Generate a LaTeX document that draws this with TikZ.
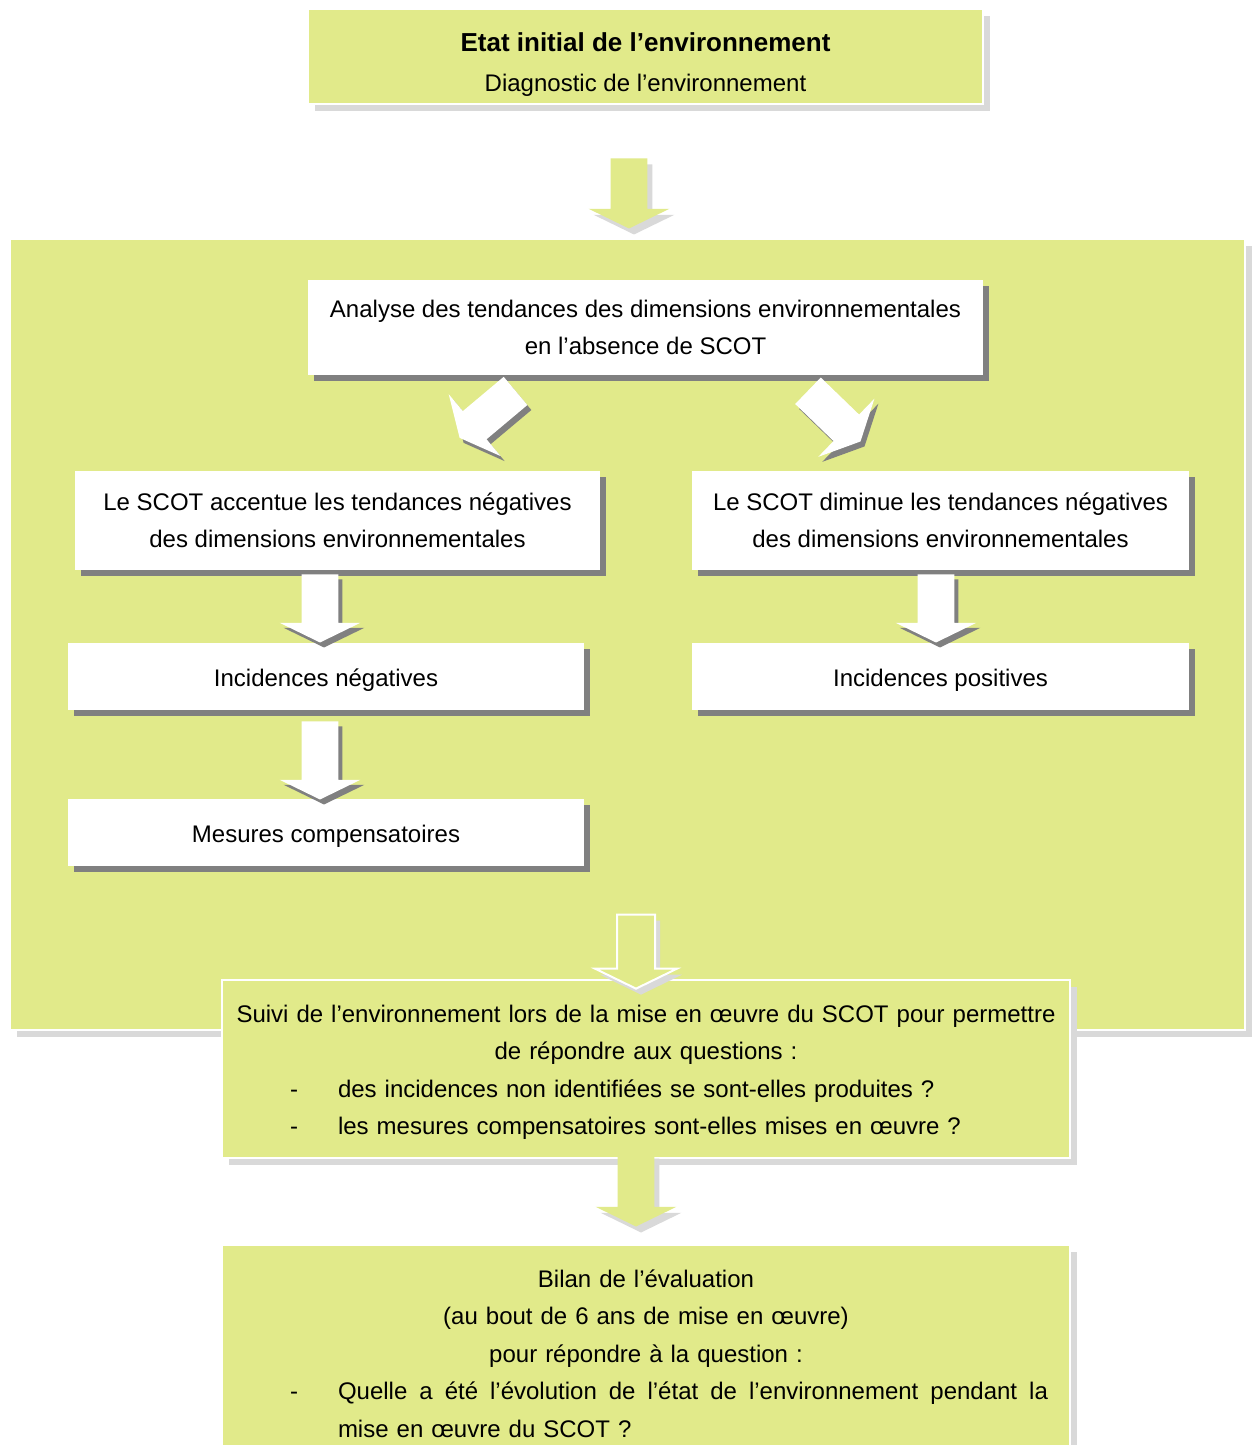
\documentclass[tikz,border=0pt]{standalone}
\usepackage{fontspec}
\setmainfont{Liberation Sans}
\usetikzlibrary{shapes.arrows,shadows}
\definecolor{vertpale}{RGB}{225,234,138}
\definecolor{grisombre}{RGB}{128,128,128}
\definecolor{grisclair}{RGB}{217,217,217}
\tikzset{
  ombre/.style={general shadow={fill=grisombre, shadow xshift=3pt, shadow yshift=-3pt}},
  ombreclaire/.style={general shadow={fill=grisclair, shadow xshift=3.5pt, shadow yshift=-3.5pt}},
  cadre/.style={rectangle, inner sep=0pt, align=center, font=\fontsize{12}{18.75}\selectfont,
    execute at begin node=\rule{0pt}{12pt}},
  boite/.style={cadre, fill=white, ombre},
  boiteverte/.style={cadre, fill=vertpale, draw=white, line width=0.8pt, ombreclaire},
  fleche/.style={single arrow, single arrow tip angle=128, single arrow head extend=11pt,
    inner xsep=0pt, inner ysep=9pt, minimum width=40pt, fill=white,
    general shadow={fill=grisombre, shadow xshift=2pt, shadow yshift=-2.5pt}},
  flecheverte/.style={single arrow, single arrow tip angle=128, single arrow head extend=11pt,
    inner xsep=0pt, inner ysep=9pt, minimum width=40pt, fill=vertpale,
    general shadow={fill=grisclair, shadow xshift=2.5pt, shadow yshift=-3pt}}
}
\begin{document}
\begin{tikzpicture}[x=0.5pt, y=-0.5pt]
  \useasboundingbox[fill=white] (0,0) rectangle (1257,1445);
  \clip (0,0) rectangle (1257,1445);
  % fond vert
  \path[fill=vertpale, draw=white, line width=0.8pt, ombreclaire] (10,239) rectangle (1245,1030);
  % boites
  \node[boiteverte, minimum width=337.5pt, minimum height=47.5pt] (etat) at (645.5,56.5)
    {\rule{0pt}{17pt}{\fontsize{13}{20}\selectfont\bfseries Etat initial de l’environnement}\\[1.25pt]Diagnostic de l’environnement};
  \node[boite, minimum width=337.5pt, minimum height=47.5pt] (analyse) at (645.5,327.5)
    {Analyse des tendances des dimensions environnementales\\en l’absence de SCOT};
  \node[boite, minimum width=262.5pt, minimum height=49.5pt] (accentue) at (337.5,520.5)
    {Le SCOT accentue les tendances négatives\\des dimensions environnementales};
  \node[boite, minimum width=248.5pt, minimum height=49.5pt] (diminue) at (940.5,520.5)
    {Le SCOT diminue les tendances négatives\\des dimensions environnementales};
  \node[boite, minimum width=258pt, minimum height=33.5pt] (incneg) at (326,676.5) {Incidences négatives};
  \node[boite, minimum width=248.5pt, minimum height=33.5pt] (incpos) at (940.5,676.5) {Incidences positives};
  \node[boite, minimum width=258pt, minimum height=33.5pt] (mesures) at (326,832.5) {Mesures compensatoires};
  \node[boiteverte, minimum width=424pt, minimum height=89pt, text width=410pt] (suivi) at (646,1069)
    {Suivi de l’environnement lors de la mise en œuvre du SCOT pour permettre\\
     de répondre aux questions :\\
     \makebox[410pt][l]{\hspace*{27pt}\makebox[24pt][l]{-}des incidences non identifiées se sont-elles produites ?}\\
     \makebox[410pt][l]{\hspace*{27pt}\makebox[24pt][l]{-}les mesures compensatoires sont-elles mises en œuvre ?}};
  \node[boiteverte, minimum width=424pt, minimum height=105.5pt, text width=410pt] (bilan) at (646,1350.5)
    {Bilan de l’évaluation\\(au bout de 6 ans de mise en œuvre)\\pour répondre à la question :\\
     \makebox[410pt][l]{\hspace*{27pt}\makebox[24pt][l]{-}\makebox[355pt][s]{\spaceskip=.278em plus 1em\relax Quelle a été l’évolution de l’état de l’environnement pendant la}}\\
     \makebox[410pt][l]{\hspace*{51pt}mise en œuvre du SCOT ?}};
  % fleches
  \node[flecheverte, minimum height=35pt, rotate=-90] (fleche1) at (629,189) {};
  \node[fleche, minimum height=36.5pt, rotate=220] (flecheg) at (491,411.5) {};
  \node[fleche, minimum height=36.5pt, rotate=-44] (fleched) at (831,413) {};
  \node[fleche, minimum height=34pt, rotate=-90] (fleche2g) at (320,604) {};
  \node[fleche, minimum height=34pt, rotate=-90] (fleche2d) at (936,604) {};
  \node[fleche, minimum height=39pt, rotate=-90] (fleche3) at (320,756) {};
  \node[flecheverte, draw=white, line width=1pt, minimum height=37pt, rotate=-90] (fleche4) at (636,947) {};
  \node[flecheverte, minimum height=37pt, rotate=-90] (fleche5) at (636,1185) {};
\end{tikzpicture}
\end{document}
